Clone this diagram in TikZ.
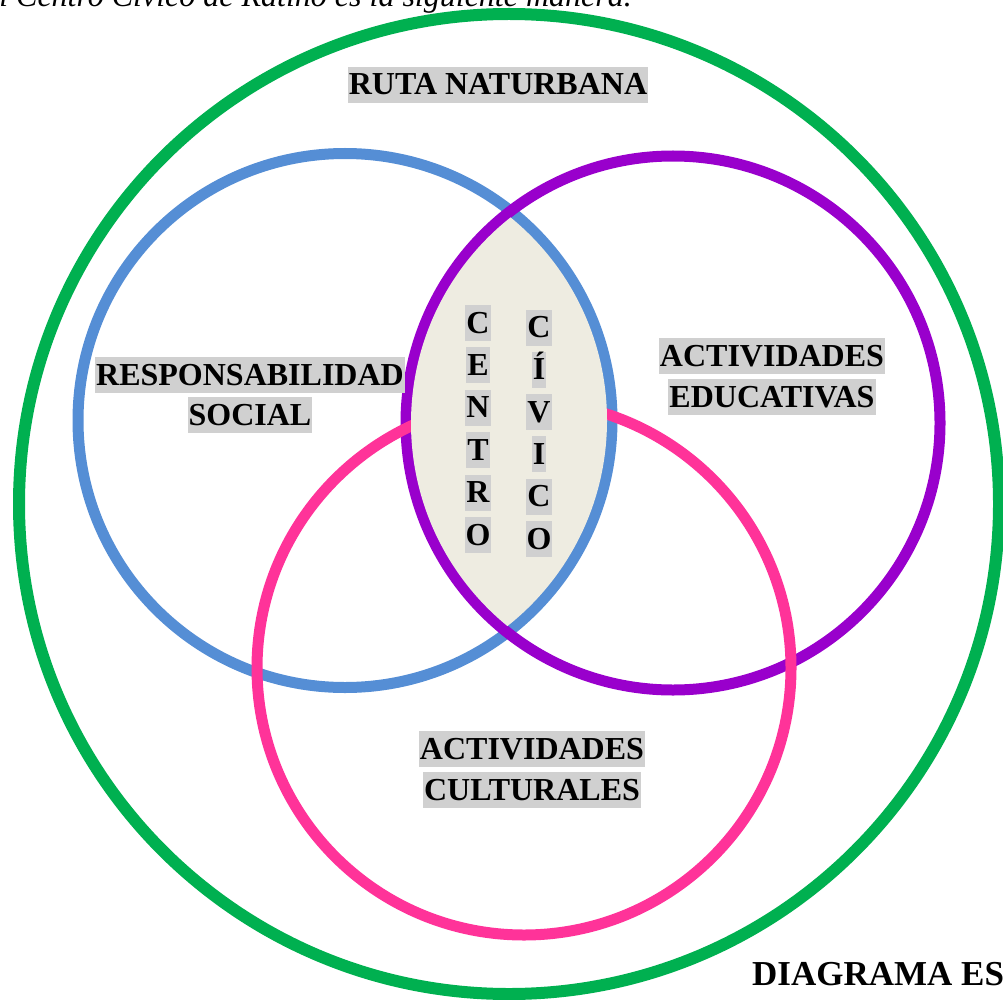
\documentclass[tikz,border=0pt]{standalone}
\usepackage{fontspec}
\setmainfont{Liberation Serif}
\usetikzlibrary{positioning}
\definecolor{verde}{HTML}{00B050}
\definecolor{azul}{HTML}{558ED5}
\definecolor{morado}{HTML}{9900CC}
\definecolor{rosa}{HTML}{FF3399}
\definecolor{lente}{HTML}{EEECE1}
\definecolor{resalte}{HTML}{D0D0D0}

\begin{document}
\begin{tikzpicture}[x=1pt, y=-1pt,
  ring/.style={line width=11pt},
  lbl/.style={fill=resalte, inner xsep=1pt, inner ysep=0pt,
    text height=28pt, text depth=8pt, anchor=base,
    font=\fontsize{32}{38}\selectfont\bfseries}]
  \useasboundingbox (0,0) rectangle (1003,1000);
  \clip (0,0) rectangle (1003,1000);

  % centros de los circulos
  \coordinate (cVerde) at (509,504);
  \coordinate (cAzul) at (345,420.5);
  \coordinate (cMorado) at (673,423);
  \coordinate (cRosa) at (524,668);

  % texto cortado arriba
  \node[anchor=base east, inner sep=0pt, font=\fontsize{32}{38}\selectfont\itshape]
    (intro) at (632,7) {l Centro Cívico de Ratino es la siguiente manera.};

  % circulos
  \draw[ring, verde, line width=12pt] (cVerde) circle[radius=490pt];
  \draw[ring, azul] (cAzul) circle[radius=267pt];
  \draw[ring, morado] (cMorado) circle[radius=267pt];
  \draw[ring, rosa] (cRosa) circle[radius=267pt];

  % interseccion
  \begin{scope}
    \clip (cAzul) circle[radius=262pt];
    \fill[lente] (cMorado) circle[radius=262pt];
  \end{scope}

  % etiquetas
  \node[lbl] (ruta) at (498,95) {RUTA NATURBANA};
  \node[lbl] (resp) at (250,385) {RESPONSABILIDAD};
  \node[lbl] (social) at (250,425) {SOCIAL};
  \node[lbl] (actEdu) at (772,366) {ACTIVIDADES};
  \node[lbl] (educ) at (772,407) {EDUCATIVAS};
  \node[lbl] (actCul) at (532,759) {ACTIVIDADES};
  \node[lbl] (cult) at (532,800) {CULTURALES};

  \foreach \ch [count=\i from 0] in {C,E,N,T,R,O}
    \node[lbl] (centro\i) at (478,333+42.4*\i) {\ch};
  \foreach \ch [count=\i from 0] in {C,Í,V,I,C,O}
    \node[lbl] (civico\i) at (539,337.5+42.3*\i) {\ch};

  \node[anchor=base west, inner sep=0pt, font=\fontsize{35}{40}\selectfont\bfseries]
    (diagrama) at (752,985) {DIAGRAMA ES};
\end{tikzpicture}
\end{document}
